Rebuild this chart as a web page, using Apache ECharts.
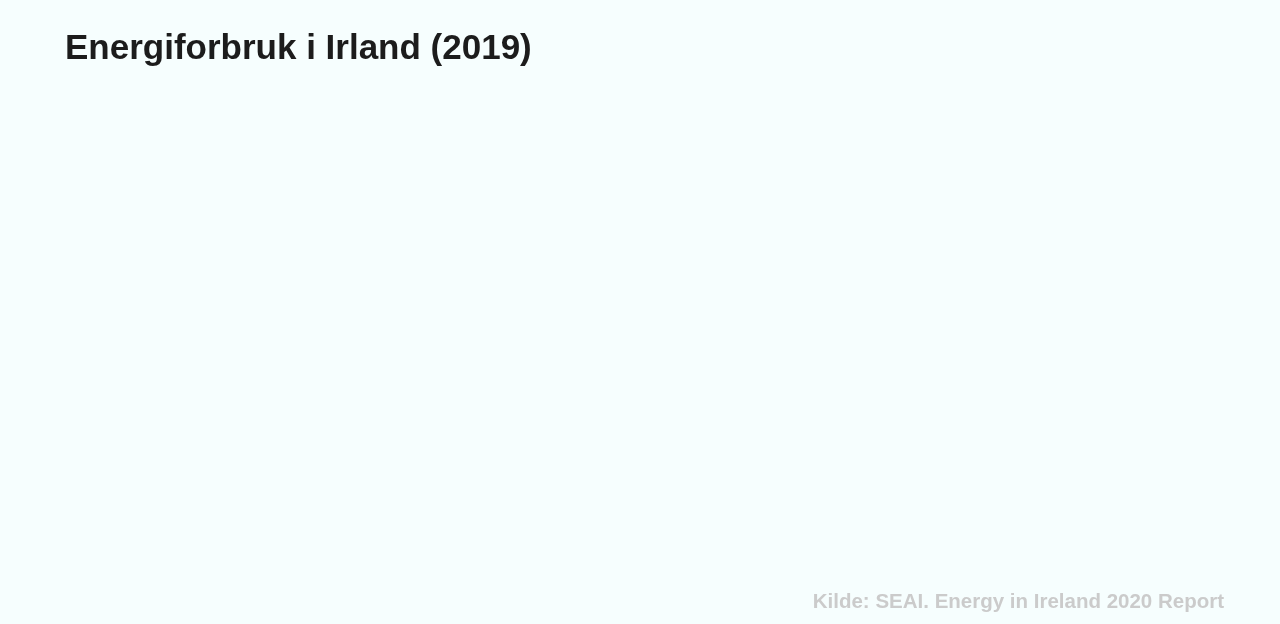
<!DOCTYPE html>
<html>
<head>
<meta charset="utf-8">
<script src="https://cdn.jsdelivr.net/npm/echarts@6/dist/echarts.min.js"></script>
<style>
html,body{margin:0;padding:0;background:#f6fefe;}
#chart{width:1280px;height:624px;}
</style>
</head>
<body>
<div id="chart"></div>
<script>
// The reference frame shows no marks yet: only the title and the source line.
const titleText = 'Energiforbruk i Irland (2019)';
const sourceText = 'Kilde: SEAI. Energy in Ireland 2020 Report';
const categories = [];
const values = [];

const chart = echarts.init(document.getElementById('chart'));
chart.setOption({
  backgroundColor: '#f6fefe',
  animation: false,
  title: [
    {
      text: titleText,
      left: 60,
      top: 27,
      textStyle: {
        fontFamily: 'Liberation Sans, Arial, sans-serif',
        fontWeight: 'bold',
        fontSize: 35,
        color: '#1c1c1c'
      }
    },
    {
      text: sourceText,
      right: 51,
      top: 587,
      textStyle: {
        fontFamily: 'Liberation Sans, Arial, sans-serif',
        fontWeight: 'bold',
        fontSize: 20.5,
        color: '#cbcbcb'
      }
    }
  ],
  xAxis: { type: 'category', data: categories, show: false },
  yAxis: { type: 'value', show: false },
  series: [{ type: 'bar', data: values }]
});
</script>
</body>
</html>
